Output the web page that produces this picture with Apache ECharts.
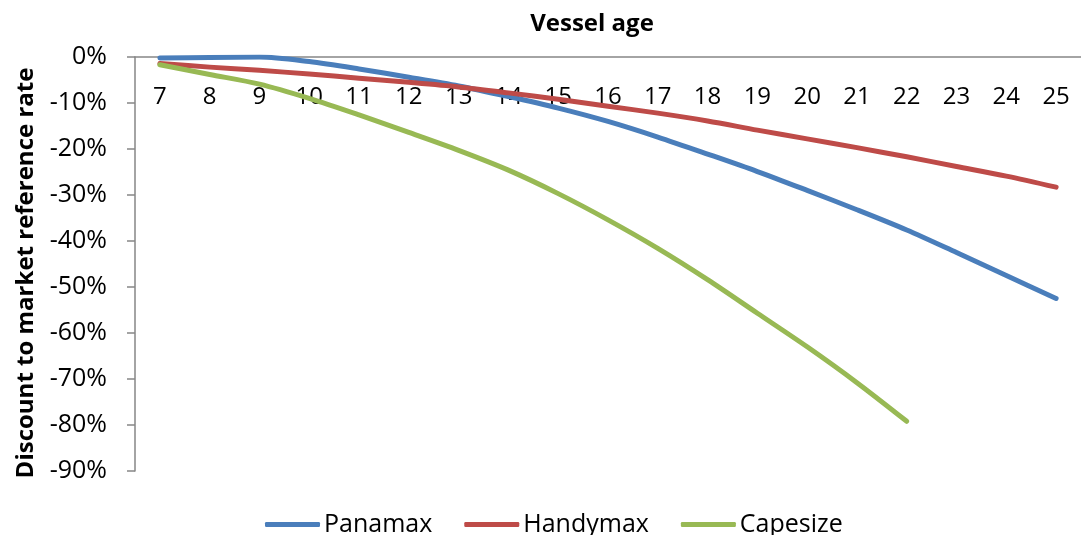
<!DOCTYPE html>
<html>
<head>
<meta charset="utf-8">
<style>
  html, body { margin: 0; padding: 0; background: #ffffff; }
  #chart { width: 1081px; height: 535px; }
</style>
<script src="https://cdn.jsdelivr.net/npm/echarts@6/dist/echarts.min.js"></script>
</head>
<body>
<div id="chart"></div>
<script>
// Vessel age (years)
const ages = ['7','8','9','10','11','12','13','14','15','16','17','18','19','20','21','22','23','24','25'];

// Discount to market reference rate, in percent
const panamax   = [-0.2, -0.1, 0.0, -1.0, -2.6, -4.4, -6.3, -8.6, -11.1, -14.0, -17.4, -21.1, -24.9, -29.0, -33.2, -37.6, -42.5, -47.5, -52.5];
const handymax  = [-1.4, -2.2, -2.9, -3.7, -4.6, -5.5, -6.5, -7.8, -9.2, -10.7, -12.2, -13.9, -15.9, -17.8, -19.7, -21.7, -23.8, -25.9, -28.3];
const capesize  = [-1.7, -3.8, -5.9, -9.0, -12.6, -16.4, -20.3, -24.6, -29.7, -35.4, -41.6, -48.4, -55.7, -63.0, -70.8, -79.2, null, null, null];

const yTicks = { min: -90, max: 0, step: 10 };

const FONT = '"Open Sans", "Noto Sans", sans-serif';
const AXIS_GREY = '#868686';

const chart = echarts.init(document.getElementById('chart'), null, { renderer: 'canvas' });

function lineSeries(name, data, color) {
  return {
    name: name,
    type: 'line',
    data: data,
    smooth: 0.3,
    showSymbol: false,
    symbol: 'none',
    connectNulls: false,
    lineStyle: { color: color, width: 5, cap: 'round', join: 'round' },
    itemStyle: { color: color },
    emphasis: { disabled: true }
  };
}

chart.setOption({
  animation: false,
  backgroundColor: '#ffffff',
  graphic: [
    {
      // axis title above the category axis
      type: 'text',
      x: 592,
      y: 24,
      style: {
        text: 'Vessel age',
        font: 'bold 24px ' + FONT,
        fill: '#000000',
        align: 'center',
        verticalAlign: 'middle'
      }
    },
    {
      // value axis title, reading bottom to top
      type: 'text',
      x: 26,
      y: 273,
      rotation: Math.PI / 2,
      style: {
        text: 'Discount to market reference rate',
        font: 'bold 24px ' + FONT,
        fill: '#000000',
        align: 'center',
        verticalAlign: 'middle'
      }
    }
  ],
  grid: { left: 135, top: 57, width: 950, height: 414, containLabel: false },
  legend: {
    left: 260,
    top: 507,
    icon: 'roundRect',
    itemWidth: 55,
    itemHeight: 5,
    itemGap: 32,
    textStyle: { fontFamily: FONT, fontSize: 25, color: '#000000', padding: [0, 0, 0, -1] },
    data: ['Panamax', 'Handymax', 'Capesize']
  },
  xAxis: {
    type: 'category',
    position: 'top',
    data: ages,
    boundaryGap: true,
    axisLine: { lineStyle: { color: AXIS_GREY, width: 1.5 } },
    axisTick: { inside: true, length: 8, lineStyle: { color: AXIS_GREY, width: 1.5 } },
    axisLabel: { inside: true, margin: 28, fontFamily: FONT, fontSize: 24, color: '#000000' },
    splitLine: { show: false }
  },
  yAxis: {
    type: 'value',
    min: yTicks.min,
    max: yTicks.max,
    interval: yTicks.step,
    axisLine: { show: true, lineStyle: { color: AXIS_GREY, width: 1.5 } },
    axisTick: { show: true, inside: false, length: 8, lineStyle: { color: AXIS_GREY, width: 1.5 } },
    axisLabel: { margin: 28, fontFamily: FONT, fontSize: 25, color: '#000000', formatter: '{value}%' },
    splitLine: { show: false }
  },
  series: [
    lineSeries('Panamax', panamax, '#4A7EBB'),
    lineSeries('Handymax', handymax, '#BE4B48'),
    lineSeries('Capesize', capesize, '#98B954')
  ]
});
</script>
</body>
</html>
